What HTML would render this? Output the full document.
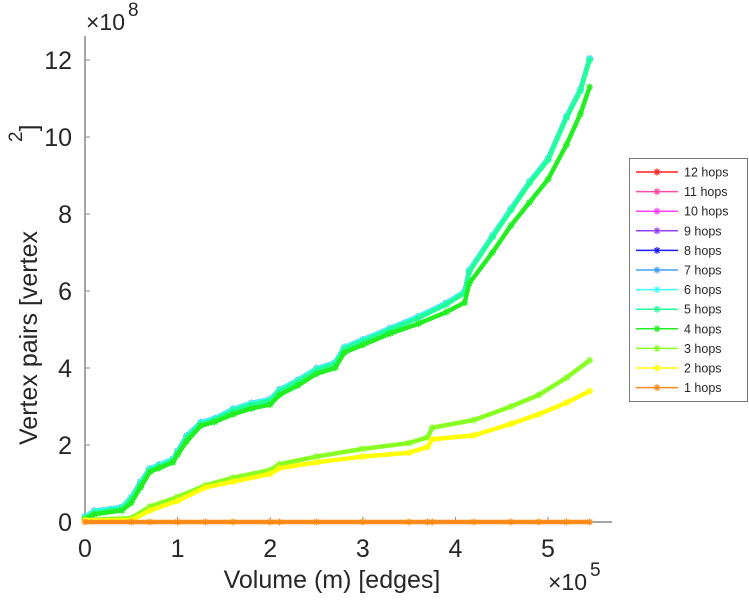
<!DOCTYPE html>
<html><head><meta charset="utf-8"><style>
body{margin:0;background:#fff;font-family:"Liberation Sans",sans-serif}
svg text{font-family:"Liberation Sans",sans-serif;fill:#262626}
</style></head><body>
<svg id="chart" width="749" height="600" xmlns="http://www.w3.org/2000/svg">
<g id="axes"></g>
<g id="series"></g>
<g id="legend"></g>
</svg>
<script>
const xVals=[0,0.1,0.4,0.5,0.6,0.7,0.8,0.95,1.0,1.1,1.25,1.4,1.6,1.8,2.0,2.1,2.3,2.5,2.7,2.8,3.0,3.3,3.6,3.9,4.1,4.15,4.4,4.6,4.8,5.0,5.2,5.35,5.45];
const upperY=[0.1,0.25,0.35,0.6,1.0,1.35,1.45,1.6,1.8,2.2,2.55,2.65,2.9,3.05,3.15,3.4,3.65,3.95,4.1,4.5,4.7,5.0,5.3,5.65,5.95,6.5,7.4,8.1,8.8,9.4,10.5,11.2,12.0];
const hop4Y=[0.08,0.2,0.3,0.5,0.9,1.3,1.4,1.55,1.75,2.1,2.5,2.6,2.8,2.95,3.05,3.3,3.55,3.85,4.0,4.4,4.6,4.9,5.15,5.45,5.7,6.2,7.0,7.7,8.3,8.9,9.8,10.6,11.3];
const lowX=[0,0.5,0.7,1.0,1.3,1.6,2.0,2.1,2.5,3.0,3.5,3.7,3.75,4.2,4.6,4.9,5.2,5.45];
const hop3Y=[0.05,0.1,0.4,0.65,0.95,1.15,1.35,1.5,1.7,1.9,2.05,2.2,2.45,2.65,3.0,3.3,3.75,4.2];
const hop2Y=[0.05,0.05,0.3,0.55,0.9,1.05,1.25,1.4,1.55,1.7,1.8,1.95,2.15,2.25,2.55,2.8,3.1,3.4];
const hop1Y=[0,0,0,0,0,0,0,0,0,0,0,0,0,0,0,0,0,0];
const xTicks=[0,1,2,3,4,5];
const yTicks=[0,2,4,6,8,10,12];
const legendLabels=["12 hops","11 hops","10 hops","9 hops","8 hops","7 hops","6 hops","5 hops","4 hops","3 hops","2 hops","1 hops"];
const legendColors=["#ff2020","#ff4da6","#ff40ff","#9640ff","#1a1aff","#40a0ff","#40ffff","#20ff99","#22ee22","#88ff22","#ffff00","#ff8c1a"];

const NS="http://www.w3.org/2000/svg";
const X0=85,Y0=522,XU=92.6,YU=38.5;
const sx=v=>X0+v*XU, sy=v=>Y0-v*YU;
function mk(tag,attrs,parent){const e=document.createElementNS(NS,tag);for(const k in attrs)e.setAttribute(k,attrs[k]);parent.appendChild(e);return e;}
const axes=document.getElementById('axes');
let a=mk('line',{x1:X0,y1:36,x2:X0,y2:Y0,stroke:'#888','stroke-width':1.5},axes);


a=mk('line',{x1:X0,y1:Y0,x2:612,y2:Y0,stroke:'#888','stroke-width':1.5},axes);


xTicks.forEach(t=>{
  mk('line',{x1:sx(t),y1:Y0,x2:sx(t),y2:Y0-5,stroke:'#888'},axes);
  const tx=mk('text',{x:sx(t),y:Y0+35,'font-size':25,'text-anchor':'middle'},axes);tx.textContent=t;
  
  
});
yTicks.forEach(t=>{
  mk('line',{x1:X0,y1:sy(t),x2:X0+5,y2:sy(t),stroke:'#888'},axes);
  const tx=mk('text',{x:X0-13,y:sy(t)+9,'font-size':25,'text-anchor':'end'},axes);tx.textContent=t;
  
  
});
let t=mk('text',{x:332,y:588,'font-size':25,'text-anchor':'middle'},axes);t.textContent='Volume (m) [edges]';


t=mk('text',{x:548,y:590,'font-size':23},axes);t.innerHTML='×10<tspan dx="3" dy="-14" font-size="19">5</tspan>';


t=mk('text',{x:86,y:30,'font-size':23},axes);t.innerHTML='×10<tspan dx="3" dy="-14" font-size="19">8</tspan>';


t=mk('text',{x:0,y:0,'font-size':25,'text-anchor':'start',transform:'translate(37,445) rotate(-90)'},axes);t.textContent='Vertex pairs [vertex';


t=mk('text',{x:0,y:0,'font-size':25,'text-anchor':'start',transform:'translate(37,142) rotate(-90)'},axes);t.innerHTML='<tspan font-size="19" dy="-15">2</tspan><tspan dy="15">]</tspan>';



const series=document.getElementById('series');
function star(g,x,y,c){
  mk('path',{d:`M${x-3.5},${y}H${x+3.5}M${x},${y-3.5}V${y+3.5}M${x-2.5},${y-2.5}L${x+2.5},${y+2.5}M${x-2.5},${y+2.5}L${x+2.5},${y-2.5}`,stroke:c,'stroke-width':1.2},g);
}
function draw(xs,ys,c,name,off){
  const g=mk('g',{},series);
  
  
  const pts=xs.map((x,i)=>sx(x)+','+(sy(ys[i])-off)).join(' ');
  mk('polyline',{points:pts,fill:'none',stroke:c,'stroke-width':4.5,'stroke-linejoin':'round'},g);
  xs.forEach((x,i)=>star(g,sx(x),sy(ys[i])-off,c));
}
for(let i=0;i<7;i++) draw(xVals,upperY,legendColors[i],'series-'+legendLabels[i].replace(' ','-'),1.5);
draw(xVals,upperY,legendColors[7],'series-5-hops',0);
draw(xVals,hop4Y,legendColors[8],'series-4-hops',0);
draw(lowX,hop3Y,legendColors[9],'series-3-hops',0);
draw(lowX,hop2Y,legendColors[10],'series-2-hops',0);
draw(lowX,hop1Y,legendColors[11],'series-1-hops',0);

const lg=document.getElementById('legend');
let box=mk('rect',{x:629.5,y:158.5,width:118,height:243,fill:'#fff',stroke:'#777','stroke-width':1},lg);


legendLabels.forEach((l,i)=>{
  const y=172+i*19.6;
  const g=mk('g',{},lg);
  
  
  mk('line',{x1:636,y1:y,x2:678,y2:y,stroke:legendColors[i],'stroke-width':1.5},g);
  star(g,657,y,legendColors[i]);
  const tx=mk('text',{x:684,y:y+4.5,'font-size':12.5},g);tx.textContent=l;
});
</script>
</body></html>
